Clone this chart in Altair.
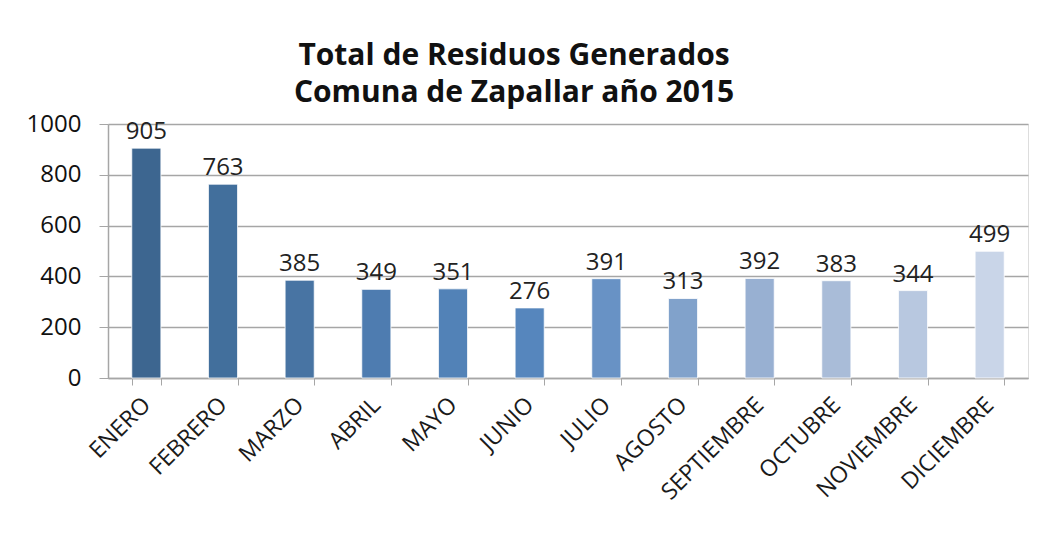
import altair as alt
import pandas as pd

meses = ["ENERO", "FEBRERO", "MARZO", "ABRIL", "MAYO", "JUNIO", "JULIO",
         "AGOSTO", "SEPTIEMBRE", "OCTUBRE", "NOVIEMBRE", "DICIEMBRE"]
valores = [905, 763, 385, 349, 351, 276, 391, 313, 392, 383, 344, 499]
colores = ["#3d6690", "#426f9c", "#4874a3", "#4e7cb0", "#5282b7", "#5686bd",
           "#6892c5", "#81a2cb", "#98b0d2", "#a9bcd8", "#b8c8e0", "#c9d5e8"]
y_ticks = [0, 200, 400, 600, 800, 1000]
titulo = ["Total de Residuos Generados", "Comuna de Zapallar año 2015"]

df = pd.DataFrame({"mes": meses, "valor": valores})
FONT = "Open Sans"
GRAY = "#a6a6a6"

x_enc = alt.X(
    "mes:N", sort=meses,
    scale=alt.Scale(paddingInner=0.62, paddingOuter=0.31),
    axis=alt.Axis(
        title=None, labelAngle=-45, labelAlign="right", labelBaseline="middle",
        labelFont=FONT, labelFontSize=23, labelColor="#1a1a1a", labelPadding=16,
        tickBand="extent", tickSize=7, tickColor=GRAY, domainColor=GRAY,
        domainWidth=1.5, grid=False,
    ),
)
y_enc = alt.Y(
    "valor:Q",
    scale=alt.Scale(domain=[0, 1000], nice=False),
    axis=alt.Axis(
        title=None, values=y_ticks, format="d", grid=True, gridColor=GRAY,
        gridWidth=1.3, domainColor=GRAY, domainWidth=1.5, tickColor=GRAY,
        tickSize=9, labelFont=FONT, labelFontSize=24, labelColor="#111",
        labelPadding=18,
    ),
)

base = alt.Chart(df).encode(x=x_enc, y=y_enc)

bars = base.mark_bar(stroke="#ffffff", strokeWidth=0.8).encode(
    color=alt.Color("mes:N", sort=meses,
                    scale=alt.Scale(domain=meses, range=colores), legend=None)
)
labels = base.mark_text(
    font=FONT, fontSize=24, color="#222", baseline="alphabetic", dy=-9
).encode(text="valor:Q")

chart = (
    alt.layer(bars, labels)
    .properties(
        width=920, height=254,
        autosize=alt.AutoSizeParams(type="none"),
        padding={"left": 100, "top": 116, "right": 6, "bottom": 150},
        title=alt.TitleParams(
            text=titulo, font=FONT, fontSize=30, fontWeight="bold",
            color="#111", anchor="middle", frame="group", dx=-54,
            lineHeight=37, offset=4,
        ),
    )
    .configure_view(stroke=None)
    .configure(background="white")
)

chart.save("out.html", embed_options={"renderer": "svg", "actions": False})
